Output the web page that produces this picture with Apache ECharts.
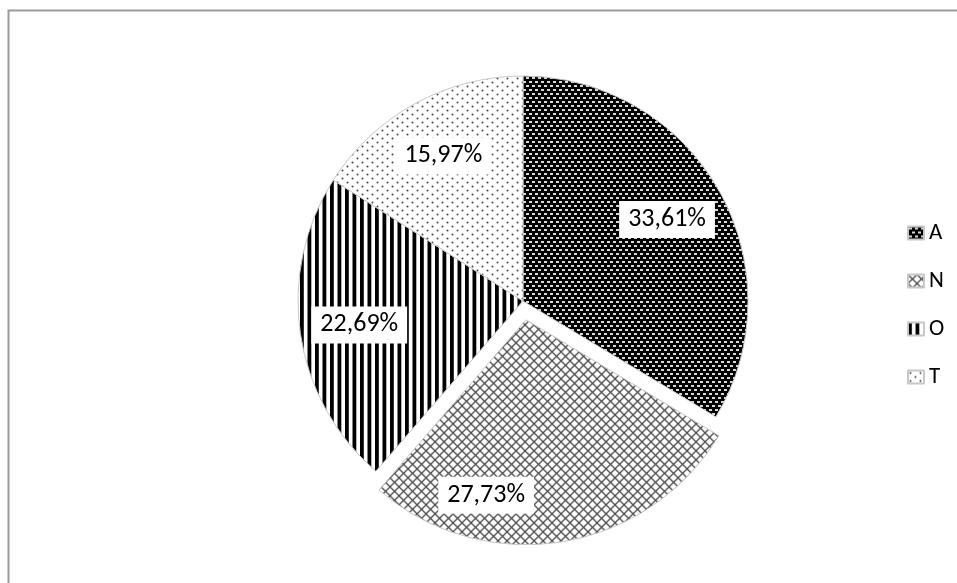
<!DOCTYPE html>
<html>
<head>
<meta charset="utf-8">
<script src="https://cdn.jsdelivr.net/npm/echarts@6/dist/echarts.min.js"></script>
<style>
  html, body { margin: 0; padding: 0; background: #fff; }
  #chart { width: 957px; height: 583px; }
</style>
</head>
<body>
<div id="chart"></div>
<script>
// Category names and their percentage shares
const categories = ['A', 'N', 'O', 'T'];
const shares = [33.61, 27.73, 22.69, 15.97];
// Slice pulled out of the pie
const explodedCategory = 'N';

// --- fill patterns -------------------------------------------------------
function makeTile(w, h, draw) {
  const c = document.createElement('canvas');
  c.width = w; c.height = h;
  const ctx = c.getContext('2d');
  draw(ctx, w, h);
  return { image: c, repeat: 'repeat' };
}

// dark background with staggered light dashes
const patternA = makeTile(6, 8, (ctx, w, h) => {
  ctx.fillStyle = '#000'; ctx.fillRect(0, 0, w, h);
  ctx.fillStyle = '#d8d8d8';
  ctx.fillRect(1, 1, 3, 2);
  ctx.fillRect(4, 5, 3, 2);
  ctx.fillRect(-2, 5, 3, 2);
});

// diagonal cross-hatch
const patternN = makeTile(9, 9, (ctx, w, h) => {
  ctx.fillStyle = '#fff'; ctx.fillRect(0, 0, w, h);
  ctx.strokeStyle = '#4a4a4a'; ctx.lineWidth = 1.3;
  ctx.beginPath();
  ctx.moveTo(-1, -1); ctx.lineTo(w + 1, h + 1);
  ctx.moveTo(w + 1, -1); ctx.lineTo(-1, h + 1);
  ctx.stroke();
});

// vertical stripes
const patternO = makeTile(15, 4, (ctx, w, h) => {
  ctx.fillStyle = '#fff'; ctx.fillRect(0, 0, w, h);
  ctx.fillStyle = '#000';
  ctx.fillRect(0, 0, 3.8, h);
  ctx.fillRect(7.5, 0, 3.8, h);
});

// sparse dots
const patternT = makeTile(10, 8, (ctx, w, h) => {
  ctx.fillStyle = '#fff'; ctx.fillRect(0, 0, w, h);
  ctx.fillStyle = '#444';
  ctx.beginPath(); ctx.arc(2.5, 2.5, 1, 0, Math.PI * 2); ctx.fill();
  ctx.beginPath(); ctx.arc(7.5, 6.5, 1, 0, Math.PI * 2); ctx.fill();
});

const fills = { A: patternA, N: patternN, O: patternO, T: patternT };

// per-slice label nudges (best-fit placement)
const labelNudge = { N: [-66, 12] };

const pieCenter = [523, 301];
const pieRadius = 225;
const explodeOffset = 19;

function fmtPct(v) {
  return v.toFixed(2).replace('.', ',') + '%';
}

const chart = echarts.init(document.getElementById('chart'), null, { renderer: 'canvas' });

chart.setOption({
  animation: false,
  backgroundColor: '#fff',
  graphic: [{
    type: 'rect',
    shape: { x: 8.5, y: 10.5, width: 1200, height: 1200 },
    style: { fill: 'none', stroke: '#9a9a9a', lineWidth: 2 },
    silent: true,
    z: 0
  }],
  legend: {
    orient: 'vertical',
    left: 902,
    top: 216,
    data: categories,
    icon: 'rect',
    itemWidth: 16,
    itemHeight: 13,
    itemGap: 24,
    selectedMode: false,
    textStyle: {
      fontFamily: 'Carlito, "Open Sans", sans-serif',
      fontSize: 23,
      lineHeight: 24,
      color: '#000'
    }
  },
  series: [
    {
      name: 'slices',
      type: 'pie',
      center: pieCenter,
      radius: [0, pieRadius],
      startAngle: 90,
      clockwise: true,
      selectedMode: 'multiple',
      selectedOffset: explodeOffset,
      silent: true,
      avoidLabelOverlap: false,
      label: { show: false },
      labelLine: { show: false },
      emphasis: { disabled: true },
      itemStyle: { borderColor: '#c8c8c8', borderWidth: 1 },
      data: categories.map((name, i) => ({
        name,
        value: shares[i],
        selected: name === explodedCategory,
        itemStyle: { color: fills[name] }
      }))
    },
    {
      // transparent ring carrying the percentage labels
      name: 'labels',
      type: 'pie',
      center: pieCenter,
      radius: [100, pieRadius],
      startAngle: 90,
      clockwise: true,
      selectedMode: 'multiple',
      selectedOffset: explodeOffset,
      silent: true,
      avoidLabelOverlap: false,
      emphasis: { disabled: true },
      itemStyle: { color: 'rgba(0,0,0,0)', borderWidth: 0 },
      labelLine: { show: false },
      label: {
        show: true,
        position: 'inside',
        formatter: p => fmtPct(p.value),
        fontFamily: 'Carlito, "Open Sans", sans-serif',
        fontSize: 26,
        color: '#000',
        backgroundColor: '#fff',
        padding: [6, 9, 5, 9]
      },
      labelLayout: params => {
        const nudge = labelNudge[categories[params.dataIndex]];
        return nudge ? { dx: nudge[0], dy: nudge[1] } : {};
      },
      z: 5,
      data: categories.map((name, i) => ({
        name,
        value: shares[i],
        selected: name === explodedCategory
      }))
    }
  ]
});
</script>
</body>
</html>
